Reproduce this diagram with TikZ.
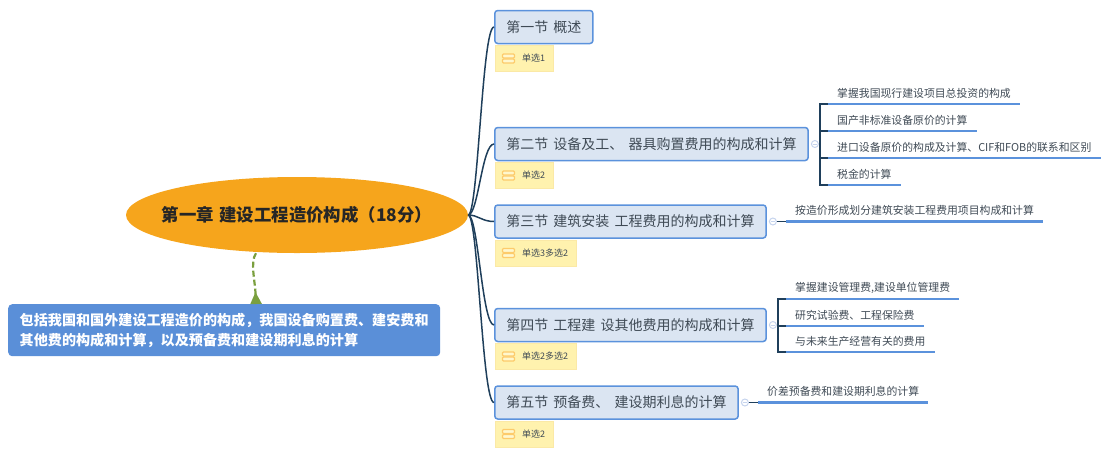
\documentclass[tikz,border=0pt]{standalone}
\usepackage{fontspec}
\setmainfont{Noto Sans CJK SC}
\usepackage{xcolor}
\usetikzlibrary{arrows.meta,positioning,shapes.geometric,calc}
\definecolor{navy}{HTML}{1F3F5B}
\definecolor{amber}{HTML}{F6A51C}
\definecolor{edge}{HTML}{5B92DC}
\definecolor{soft}{HTML}{DBE5F2}
\definecolor{ink}{HTML}{3F4A55}
\definecolor{note}{HTML}{FFF2AE}
\definecolor{noteline}{HTML}{FBE9A6}
\definecolor{icon}{HTML}{FDCB6B}
\definecolor{fold}{HTML}{C6D4EE}
\definecolor{moss}{HTML}{7A9F3E}
\definecolor{callout}{HTML}{5A8FD8}
\newcommand{\rootfont}{\fontsize{17.4}{20}\selectfont\bfseries\spaceskip 5.5pt\relax}
\newcommand{\secfont}{\fontsize{14}{18}\selectfont\spaceskip 5.2pt\relax}

\begin{document}
\begin{tikzpicture}[
x=1pt,y=-1pt,
rootnode/.style={ellipse,fill=amber,minimum width=342pt,minimum height=76pt,inner xsep=-30pt,inner ysep=0pt,text=black!85,font=\rootfont},
secbox/.style={draw=edge,line width=1.5pt,rounded corners=3pt,fill=soft,anchor=west,minimum height=33pt,inner xsep=11.5pt,inner ysep=0pt,text=ink,font=\secfont},
tagbox/.style={draw=noteline,fill=note,minimum height=26pt,inner xsep=8pt,inner ysep=0pt,text=ink,font=\fontsize{9}{11}\selectfont},
leaf/.style={anchor=south west,minimum height=21pt,inner xsep=9pt,inner ysep=0pt,text=ink,font=\fontsize{10.85}{13}\selectfont},
foldmark/.style={circle,draw=fold,line width=1pt,fill=white,minimum size=7pt,inner sep=0pt},
branch/.style={draw=navy,line width=1.5pt},
underline/.style={draw=edge,line width=2.4pt},
iconbar/.style={draw=icon,line width=1.3pt,fill=note!60,rounded corners=1pt},
notebox/.style={fill=callout,rounded corners=4pt,anchor=north west,minimum width=432pt,minimum height=52pt,inner xsep=10.5pt,inner ysep=0pt,align=left,text=white,font=\fontsize{14.1}{20}\selectfont\bfseries},
dashlink/.style={draw=moss,line width=2.2pt,dash pattern=on 6pt off 3pt,-{Triangle[reversed,length=12pt,width=11pt,fill=moss]}}
]
\useasboundingbox (0,0) rectangle (1111,459);
\node[rootnode] (root) at (297,215) {第一章 建设工程造价构成（18分）};
\node[notebox] (desc) at (8,304) {包括我国和国外建设工程造价的构成，我国设备购置费、建安费和\\其他费的构成和计算，以及预备费和建设期利息的计算};

\node[secbox] (sec1) at (494,27) {第一节 概述};
\node[secbox] (sec2) at (494,144) {第二节 设备及工、 器具购置费用的构成和计算};
\node[secbox] (sec3) at (494,221.5) {第三节 建筑安装 工程费用的构成和计算};
\node[secbox] (sec4) at (494,325) {第四节 工程建 设其他费用的构成和计算};
\node[secbox] (sec5) at (494,402.5) {第五节 预备费、 建设期利息的计算};

\node[tagbox,below right=1pt and 1pt of sec1.south west] (tag1) {\hspace{19pt}单选1};
\node[tagbox,below right=1pt and 1pt of sec2.south west] (tag2) {\hspace{19pt}单选2};
\node[tagbox,below right=1pt and 1pt of sec3.south west] (tag3) {\hspace{19pt}单选3多选2};
\node[tagbox,below right=1pt and 1pt of sec4.south west] (tag4) {\hspace{19pt}单选2多选2};
\node[tagbox,below right=1pt and 1pt of sec5.south west] (tag5) {\hspace{19pt}单选2};
\foreach \t in {tag1,tag2,tag3,tag4,tag5}{
  \draw[iconbar] ($(\t.west)+(7.5,-4.5)$) rectangle ($(\t.west)+(19.5,-0.5)$);
  \draw[iconbar] ($(\t.west)+(7.5,0.5)$) rectangle ($(\t.west)+(19.5,4.5)$);
}

\node[foldmark,right=2pt of sec2] (fold2) {};
\node[foldmark,right=2pt of sec3] (fold3) {};
\node[foldmark,right=2pt of sec4] (fold4) {};
\node[foldmark,right=2pt of sec5] (fold5) {};

\node[leaf] (l21) at (828,104) {掌握我国现行建设项目总投资的构成};
\node[leaf] (l22) at (828,131) {国产非标准设备原价的计算};
\node[leaf] (l23) at (828,158) {进口设备原价的构成及计算、CIF和FOB的联系和区别};
\node[leaf] (l24) at (828,185) {税金的计算};
\node[leaf] (l31) at (786,221.5) {按造价形成划分建筑安装工程费用项目构成和计算};
\node[leaf] (l41) at (786,299) {掌握建设管理费,建设单位管理费};
\node[leaf] (l42) at (786,326) {研究试验费、工程保险费};
\node[leaf] (l43) at (786,352) {与未来生产经营有关的费用};
\node[leaf] (l51) at (758,402.5) {价差预备费和建设期利息的计算};

% trunk lines
\foreach \s in {sec1,sec2,sec3,sec4,sec5}{
  \draw[branch] (root.east) .. controls +(10,0) and +(-12,0) .. (\s.west);
}
\coordinate (brk2) at (820,144);
\coordinate (brk4) at (778,325);
\draw[branch] (fold2) -- (brk2);
\draw[branch] (fold4) -- (brk4);
\foreach \l in {l21,l22,l23,l24}{\draw[branch] (brk2) |- (\l.south west);}
\foreach \l in {l41,l42,l43}{\draw[branch] (brk4) |- (\l.south west);}
\draw[branch] (fold3) -- (l31.south west);
\draw[branch] (fold5) -- (l51.south west);
\foreach \l in {l21,l22,l23,l24,l31,l41,l42,l43,l51}{
  \draw[underline] (\l.south west) -- (\l.south east);
}
\foreach \f in {fold2,fold3,fold4,fold5}{
  \draw[fold,line width=.7pt] ($(\f.center)+(-2,0)$) -- ($(\f.center)+(2,0)$);
}

\draw[dashlink] (root.south -| 256,0) .. controls (250,262) and (255,280) .. (desc.north -| 256,0);
\end{tikzpicture}
\end{document}
